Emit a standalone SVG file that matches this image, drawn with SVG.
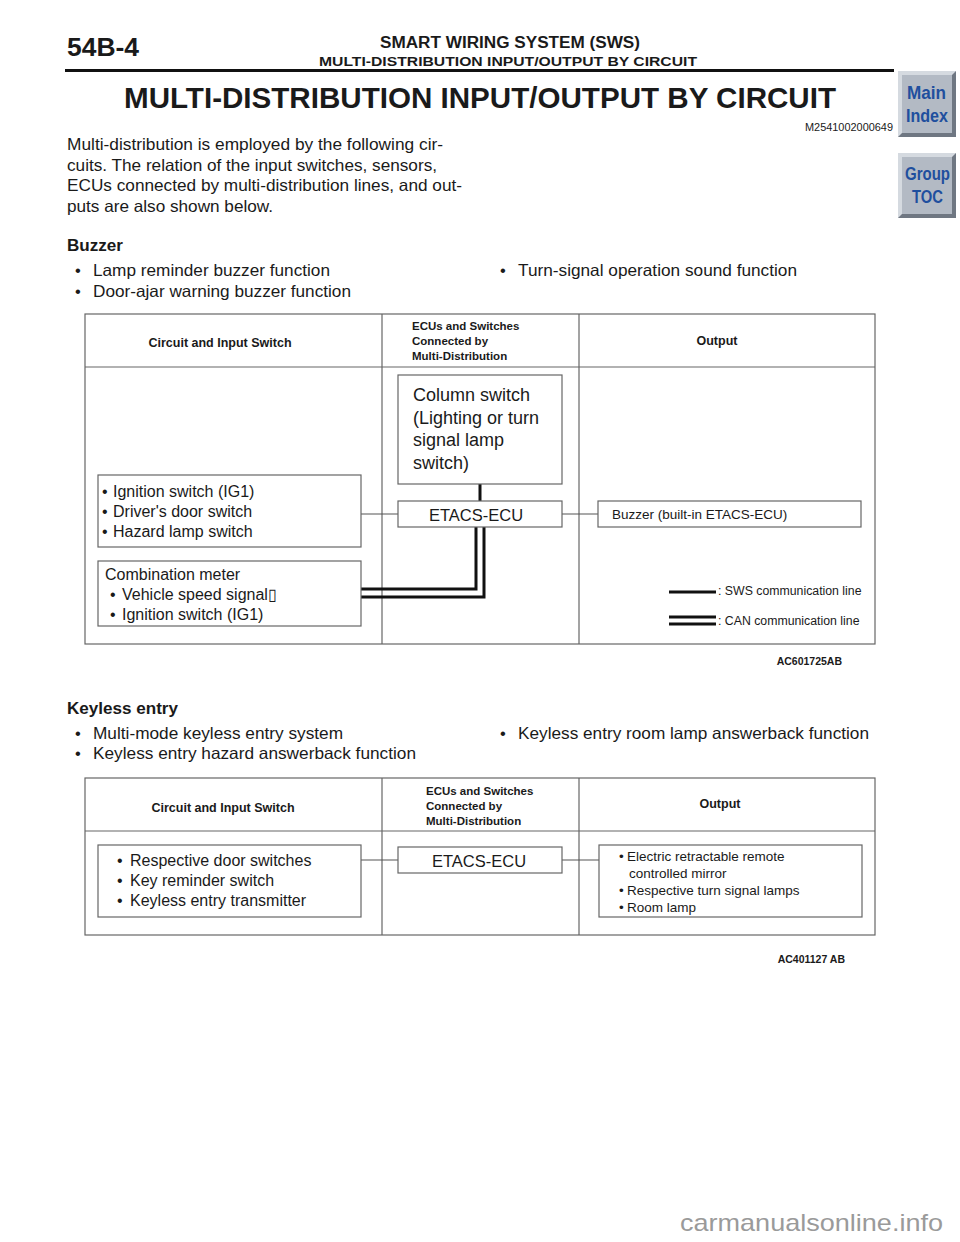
<svg xmlns="http://www.w3.org/2000/svg" width="960" height="1242" viewBox="0 0 960 1242">
<style>
text{font-family:"Liberation Sans",Arial,sans-serif;fill:#1a1a1a}
.b{font-weight:bold}
.pg{font-size:16.5px}
.hd{font-size:12.5px;font-weight:bold}
.hs{font-size:11.5px;font-weight:bold}
.box{fill:#fff;stroke:#666;stroke-width:1.2}
.tbl{fill:none;stroke:#666;stroke-width:1.2}
.thin{stroke:#555;stroke-width:1.1;fill:none}
.thick{stroke:#111;stroke-width:3;fill:none}
.t16{font-size:16px}
.t13{font-size:13.5px}
.btn{font-family:"Liberation Sans",sans-serif;font-weight:bold;font-size:19px;fill:#1f4f9e}
</style>
<rect width="960" height="1242" fill="#fff"/>
<!-- page header -->
<text x="67" y="56" class="b" font-size="25" textLength="72" lengthAdjust="spacingAndGlyphs">54B-4</text>
<text x="380" y="48" class="b" font-size="16" textLength="260" lengthAdjust="spacingAndGlyphs">SMART WIRING SYSTEM (SWS)</text>
<text x="319" y="66" class="b" font-size="13.5" textLength="378" lengthAdjust="spacingAndGlyphs">MULTI-DISTRIBUTION INPUT/OUTPUT BY CIRCUIT</text>
<rect x="65" y="69" width="829" height="3" fill="#111"/>
<text x="124" y="108" class="b" font-size="30" textLength="712" lengthAdjust="spacingAndGlyphs">MULTI-DISTRIBUTION INPUT/OUTPUT BY CIRCUIT</text>
<text x="893" y="131" font-size="10.5" text-anchor="end" textLength="88" lengthAdjust="spacingAndGlyphs">M2541002000649</text>
<!-- side buttons -->
<g id="btn-main">
<rect x="898" y="71" width="58" height="66" fill="#6f7782"/>
<polygon points="898,71 956,71 952,75 902,75 902,133 898,137" fill="#d5dae0"/>
<rect x="902" y="75" width="50" height="58" fill="#b3bac4"/>
<text x="907" y="99" class="btn" textLength="39" lengthAdjust="spacingAndGlyphs">Main</text>
<text x="906" y="122" class="btn" textLength="42" lengthAdjust="spacingAndGlyphs">Index</text>
</g>
<g id="btn-group">
<rect x="898" y="153" width="58" height="65" fill="#6f7782"/>
<polygon points="898,153 956,153 952,157 902,157 902,214 898,218" fill="#d5dae0"/>
<rect x="902" y="157" width="50" height="57" fill="#b3bac4"/>
<text x="905" y="180" class="btn" textLength="45" lengthAdjust="spacingAndGlyphs">Group</text>
<text x="912" y="203" class="btn" textLength="31" lengthAdjust="spacingAndGlyphs">TOC</text>
</g>
<!-- intro -->
<text x="67" y="150" class="pg" textLength="376" lengthAdjust="spacingAndGlyphs">Multi-distribution is employed by the following cir-</text>
<text x="67" y="171" class="pg" textLength="370" lengthAdjust="spacingAndGlyphs">cuits. The relation of the input switches, sensors,</text>
<text x="67" y="191" class="pg" textLength="395" lengthAdjust="spacingAndGlyphs">ECUs connected by multi-distribution lines, and out-</text>
<text x="67" y="212" class="pg" textLength="206" lengthAdjust="spacingAndGlyphs">puts are also shown below.</text>
<text x="67" y="251" class="pg b" textLength="56" lengthAdjust="spacingAndGlyphs">Buzzer</text>
<text x="75" y="276" class="pg">•</text>
<text x="93" y="276" class="pg" textLength="237" lengthAdjust="spacingAndGlyphs">Lamp reminder buzzer function</text>
<text x="75" y="297" class="pg">•</text>
<text x="93" y="297" class="pg" textLength="258" lengthAdjust="spacingAndGlyphs">Door-ajar warning buzzer function</text>
<text x="500" y="276" class="pg">•</text>
<text x="518" y="276" class="pg" textLength="279" lengthAdjust="spacingAndGlyphs">Turn-signal operation sound function</text>
<!-- table 1 -->
<g id="table1">
<rect x="85" y="314" width="790" height="330" class="tbl"/>
<line x1="85" y1="367" x2="875" y2="367" class="tbl"/>
<line x1="382" y1="314" x2="382" y2="644" class="tbl"/>
<line x1="579" y1="314" x2="579" y2="644" class="tbl"/>
<text x="220" y="347" class="hd" text-anchor="middle">Circuit and Input Switch</text>
<text x="412" y="330" class="hs">ECUs and Switches</text>
<text x="412" y="345" class="hs">Connected by</text>
<text x="412" y="360" class="hs">Multi-Distribution</text>
<text x="717" y="345" class="hd" text-anchor="middle">Output</text>
</g>
<g id="connectors1">
<line x1="361" y1="514" x2="398" y2="514" class="thin"/>
<line x1="562" y1="514" x2="598" y2="514" class="thin"/>
<line x1="480" y1="484" x2="480" y2="501" class="thick"/>
<polyline points="476,527 476,589 361,589" class="thick"/>
<polyline points="484,527 484,597 361,597" class="thick"/>
</g>
<g id="col-switch">
<rect x="398" y="375" width="164" height="109" class="box"/>
<text x="413" y="401" font-size="18">Column switch</text>
<text x="413" y="424" font-size="18">(Lighting or turn</text>
<text x="413" y="446" font-size="18">signal lamp</text>
<text x="413" y="469" font-size="18">switch)</text>
</g>
<g id="etacs1">
<rect x="398" y="501" width="164" height="26" class="box"/>
<text x="476" y="521" font-size="16.5" text-anchor="middle">ETACS-ECU</text>
</g>
<g id="inputs1">
<rect x="98" y="475" width="263" height="72" class="box"/>
<text x="102" y="497" class="t16">•</text><text x="113" y="497" class="t16">Ignition switch (IG1)</text>
<text x="102" y="517" class="t16">•</text><text x="113" y="517" class="t16">Driver's door switch</text>
<text x="102" y="537" class="t16">•</text><text x="113" y="537" class="t16">Hazard lamp switch</text>
</g>
<g id="combo-meter">
<rect x="98" y="561" width="263" height="65" class="box"/>
<text x="105" y="580" class="t16">Combination meter</text>
<text x="110" y="600" class="t16">•</text><text x="122" y="600" class="t16">Vehicle speed signal▯</text>
<text x="110" y="620" class="t16">•</text><text x="122" y="620" class="t16">Ignition switch (IG1)</text>
</g>
<g id="buzzer">
<rect x="598" y="501" width="263" height="26" class="box"/>
<text x="612" y="519" class="t13">Buzzer (built-in ETACS-ECU)</text>
</g>
<g id="legend">
<line x1="669" y1="592" x2="716" y2="592" class="thick"/>
<text x="718" y="595" font-size="12.3">: SWS communication line</text>
<line x1="669" y1="617" x2="716" y2="617" class="thick"/>
<line x1="669" y1="624" x2="716" y2="624" class="thick"/>
<text x="718" y="625" font-size="12.3">: CAN communication line</text>
</g>
<text x="842" y="665" class="b" font-size="10.5" text-anchor="end">AC601725AB</text>
<!-- keyless -->
<text x="67" y="714" class="pg b" textLength="111" lengthAdjust="spacingAndGlyphs">Keyless entry</text>
<text x="75" y="739" class="pg">•</text>
<text x="93" y="739" class="pg" textLength="250" lengthAdjust="spacingAndGlyphs">Multi-mode keyless entry system</text>
<text x="75" y="759" class="pg">•</text>
<text x="93" y="759" class="pg" textLength="323" lengthAdjust="spacingAndGlyphs">Keyless entry hazard answerback function</text>
<text x="500" y="739" class="pg">•</text>
<text x="518" y="739" class="pg" textLength="351" lengthAdjust="spacingAndGlyphs">Keyless entry room lamp answerback function</text>
<g id="table2">
<rect x="85" y="778" width="790" height="157" class="tbl"/>
<line x1="85" y1="831" x2="875" y2="831" class="tbl"/>
<line x1="382" y1="778" x2="382" y2="935" class="tbl"/>
<line x1="579" y1="778" x2="579" y2="935" class="tbl"/>
<text x="223" y="812" class="hd" text-anchor="middle">Circuit and Input Switch</text>
<text x="426" y="795" class="hs">ECUs and Switches</text>
<text x="426" y="810" class="hs">Connected by</text>
<text x="426" y="825" class="hs">Multi-Distribution</text>
<text x="720" y="808" class="hd" text-anchor="middle">Output</text>
</g>
<g id="connectors2">
<line x1="361" y1="860" x2="398" y2="860" class="thin"/>
<line x1="562" y1="860" x2="599" y2="860" class="thin"/>
</g>
<g id="inputs2">
<rect x="98" y="845" width="263" height="72" class="box"/>
<text x="117" y="866" class="t16">•</text><text x="130" y="866" class="t16">Respective door switches</text>
<text x="117" y="886" class="t16">•</text><text x="130" y="886" class="t16">Key reminder switch</text>
<text x="117" y="906" class="t16">•</text><text x="130" y="906" class="t16">Keyless entry transmitter</text>
</g>
<g id="etacs2">
<rect x="398" y="847" width="164" height="26" class="box"/>
<text x="479" y="867" font-size="16.5" text-anchor="middle">ETACS-ECU</text>
</g>
<g id="outputs2">
<rect x="599" y="845" width="263" height="72" class="box"/>
<text x="619" y="861" class="t13">•</text><text x="627" y="861" class="t13">Electric retractable remote</text>
<text x="629" y="878" class="t13">controlled mirror</text>
<text x="619" y="895" class="t13">•</text><text x="627" y="895" class="t13">Respective turn signal lamps</text>
<text x="619" y="912" class="t13">•</text><text x="627" y="912" class="t13">Room lamp</text>
</g>
<text x="845" y="963" class="b" font-size="10.5" text-anchor="end">AC401127 AB</text>
<text x="680" y="1231" font-size="24" style="fill:#9a9a9a" textLength="263" lengthAdjust="spacingAndGlyphs">carmanualsonline.info</text>
</svg>
